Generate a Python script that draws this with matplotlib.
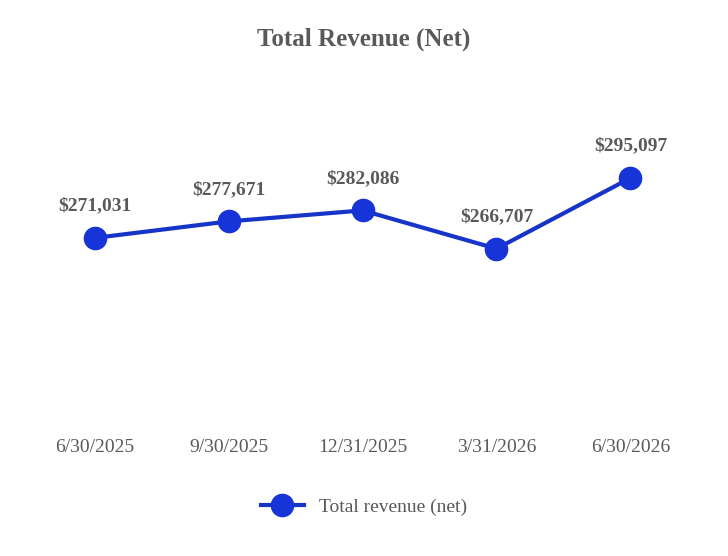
import matplotlib.pyplot as plt

plt.rcParams["font.family"] = ["Liberation Serif", "DejaVu Serif"]

dates = ["6/30/2025", "9/30/2025", "12/31/2025", "3/31/2026", "6/30/2026"]
revenue = [271031, 277671, 282086, 266707, 295097]

fig = plt.figure(figsize=(7.28, 5.56), dpi=100)
ax = fig.add_axes([0.038, 0.245, 0.92, 0.575])
x = list(range(len(dates)))
ax.plot(x, revenue, color="#1634c8", linewidth=3, marker="o", markersize=16,
        markerfacecolor="#1634d8", markeredgecolor="#1634d8", label="Total revenue (net)")
for xi, v in zip(x, revenue):
    ax.annotate(f"${v:,}", (xi, v), xytext=(0, 17), textcoords="offset points",
                ha="center", va="bottom", fontsize=14, fontweight="bold", color="#595959")

ax.set_xlim(-0.5, 4.5)
ax.set_ylim(198000, 326400)
ax.set_xticks(x)
ax.set_xticklabels(dates, fontsize=14, color="#595959")
ax.tick_params(axis="x", length=0, pad=14)
ax.set_yticks([])
for s in ax.spines.values():
    s.set_visible(False)

fig.suptitle("Total Revenue (Net)", y=0.95, fontsize=18, fontweight="bold", color="#595959")
fig.legend(loc="center", bbox_to_anchor=(0.5, 0.088), frameon=False, fontsize=14,
           labelcolor="#595959", handlelength=2.2)

fig.savefig("out.png", dpi=100)
